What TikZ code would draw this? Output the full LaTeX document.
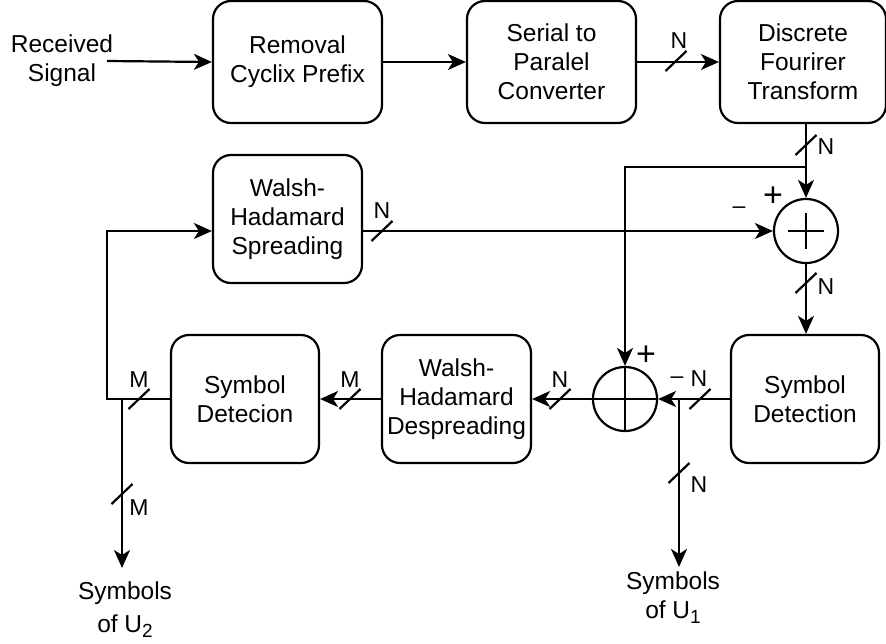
\documentclass[tikz,border=0pt]{standalone}
\usepackage{fontspec}
\setmainfont{Liberation Sans}
\usetikzlibrary{arrows.meta}
\newcommand\boxfont{\fontsize{24.5}{29}\selectfont}
\newcommand\lblfont{\fontsize{23}{28}\selectfont}
\newcommand\signfont{\fontsize{34}{34}\selectfont}
\newcommand\subx[1]{{\fontsize{19}{19}\selectfont\raisebox{-5pt}{#1}}}
\begin{document}
\begin{tikzpicture}[x=1pt,y=-1pt,
  blk/.style={draw,line width=2.2pt,rounded corners=18pt,align=center,inner sep=0pt,font=\boxfont},
  txt/.style={align=center,inner sep=0pt,font=\boxfont},
  lbl/.style={inner sep=0pt,font=\lblfont,text height=16.5pt,text depth=0pt},
  sign/.style={inner sep=0pt,font=\signfont},
  sumnode/.style={draw,circle,line width=2.2pt,minimum size=64pt,inner sep=0pt},
  conn/.style={line width=2.2pt,-{Stealth[length=18pt,width=16pt,inset=5pt]}},
  wire/.style={line width=2.2pt},
  bslash/.pic={\draw[line width=2.2pt] (-10.5,10) -- (10.5,-10);}]
\useasboundingbox (0,0) rectangle (886,643);

% blocks
\node[blk,minimum width=169pt,minimum height=122pt] (rcp) at (297.5,62) {Removal\\Cyclix Prefix};
\node[blk,minimum width=169pt,minimum height=122pt] (sp) at (551.5,62) {Serial to\\Paralel\\Converter};
\node[blk,minimum width=166pt,minimum height=122pt] (dft) at (803,62) {Discrete\\Fourirer\\Transform};
\node[blk,minimum width=149pt,minimum height=128pt] (ws) at (287.5,219) {Walsh-\\Hadamard\\Spreading};
\node[blk,minimum width=148pt,minimum height=128pt] (sdl) at (245,399) {Symbol\\Detecion};
\node[blk,minimum width=149pt,minimum height=128pt] (wd) at (456.5,399) {Walsh-\\Hadamard\\Despreading};
\node[blk,minimum width=148pt,minimum height=128pt] (sdr) at (805,399) {Symbol\\Detection};

% summing junctions
\node[sumnode] (add1) at (806,231) {};
\draw[wire] ([xshift=-18pt]add1.center) -- ([xshift=18pt]add1.center);
\draw[wire] ([yshift=18pt]add1.center) -- ([yshift=-18pt]add1.center);
\node[sumnode] (add2) at (625,399) {};
\draw[wire] (add2.north) -- (add2.south);
\draw[wire] (add2.west) -- (add2.east);

% free texts
\node[txt] (recv) at (62,61) {Received\\Signal};
\node[txt] (u1) at (673,598) {Symbols\\of U\subx{1}};
\node[txt] (u2) at (125,610) {Symbols\\[4pt]of U\subx{2}};

% coordinates
\coordinate (rin) at (107,61);
\coordinate (j1) at (806,167);
\coordinate (j2) at (679,399);
\coordinate (t1) at (679,567);
\coordinate (cl1) at (107,399);
\coordinate (cl2) at (107,231);
\coordinate (jl) at (122,399);
\coordinate (t2) at (122,568);

% connectors
\draw[conn] (rin) -- (rcp.west);
\draw[conn] (rcp.east) -- (sp.west);
\draw[conn] (sp.east) -- (dft.west);
\draw[conn] (add1 |- dft.south) -- (add1.north);
\draw[conn] (j1) -| (add2.north);
\draw[conn] (ws.east |- add1) -- (add1.west);
\draw[conn] (add1.south) -- (add1 |- sdr.north);
\draw[conn] (sdr.west) -- (add2.east);
\draw[conn] (j2) -- (t1);
\draw[conn] (add2.west) -- (wd.east);
\draw[conn] (wd.west) -- (sdl.east);
\draw[conn] (sdl.west) -- (cl1) -- (cl2) -- (ws.west |- cl2);
\draw[conn] (jl) -- (t2);

% bus slashes
\pic at (676,61) {bslash};
\pic at (806,145) {bslash};
\pic at (382,231) {bslash};
\pic at (806,283) {bslash};
\pic at (700,399) {bslash};
\pic at (679,473) {bslash};
\pic at (560,399) {bslash};
\pic at (350,399) {bslash};
\pic at (139,399) {bslash};
\pic at (122,494) {bslash};

% labels
\node[lbl] (nA) at (679,40) {N};
\node[lbl] (nB) at (826,146) {N};
\node[lbl] (nC) at (382,210) {N};
\node[lbl] (nD) at (826,286) {N};
\node[lbl] (nE) at (699,378) {N};
\node[lbl] (nF) at (699,484) {N};
\node[lbl] (nG) at (560,379) {N};
\node[lbl] (mA) at (350,379) {M};
\node[lbl] (mB) at (139,379) {M};
\node[lbl] (mC) at (139,507) {M};
\node[sign] (p1) at (773,197) {+};
\node[lbl] (m1) at (739,205) {–};
\node[sign] (p2) at (646,356) {+};
\node[lbl] (m2) at (677,375) {–};
\end{tikzpicture}
\end{document}
